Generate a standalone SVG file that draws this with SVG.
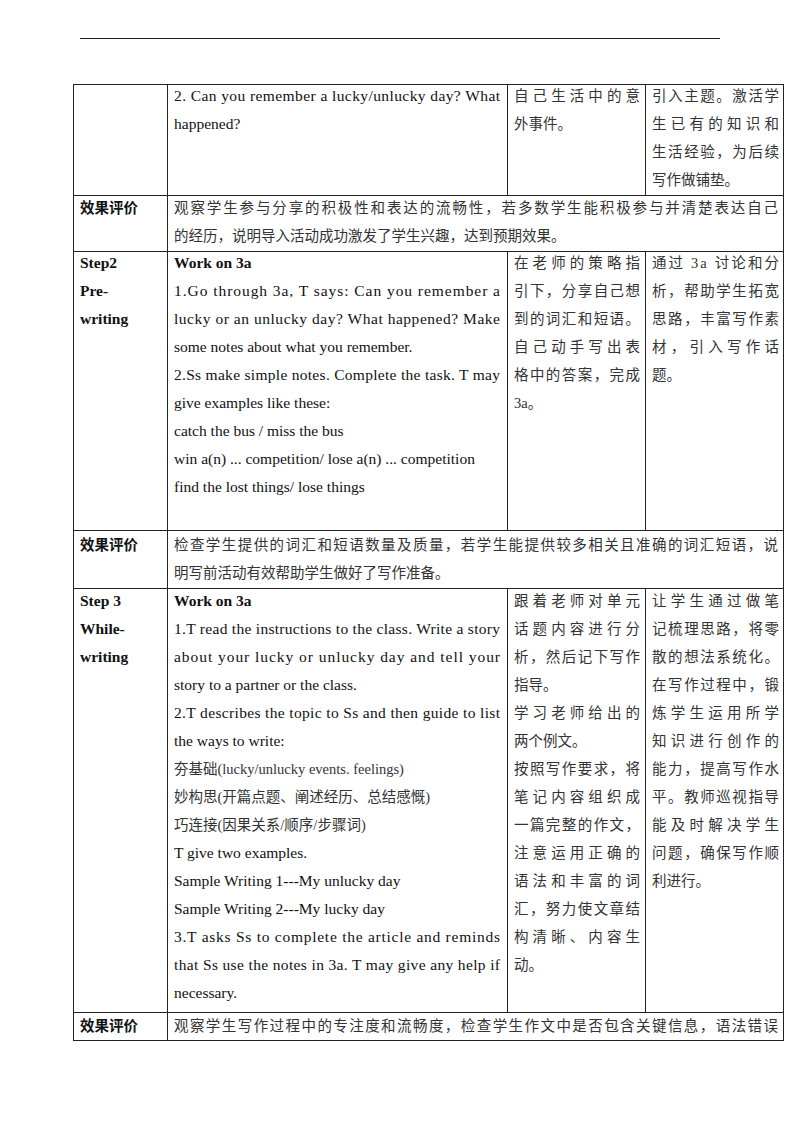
<svg xmlns="http://www.w3.org/2000/svg" width="800" height="1132" viewBox="0 0 800 1132">
<style>
.l{stroke:#222;stroke-width:1;fill:none}
.e{font-family:"Liberation Serif",serif;font-size:15.5px;fill:#111}
.b{font-family:"Liberation Serif",serif;font-size:15.5px;font-weight:bold;fill:#111}
.c{font-family:"Liberation Serif","Noto Sans CJK SC",serif;font-size:14.5px;fill:#333}
.h{font-family:"Noto Sans CJK SC",sans-serif;font-size:14.5px;font-weight:bold;fill:#111}
</style>
<rect width="800" height="1132" fill="#fff"/>
<line class="l" x1="80" y1="38.5" x2="720" y2="38.5"/>
<g id="grid">
<rect class="l" x="73.5" y="84.5" width="710" height="956"/>
<line class="l" x1="167.5" y1="84" x2="167.5" y2="1040"/>
<line class="l" x1="507.5" y1="84" x2="507.5" y2="195"/>
<line class="l" x1="645.5" y1="84" x2="645.5" y2="195"/>
<line class="l" x1="507.5" y1="251" x2="507.5" y2="530"/>
<line class="l" x1="645.5" y1="251" x2="645.5" y2="530"/>
<line class="l" x1="507.5" y1="588" x2="507.5" y2="1012"/>
<line class="l" x1="645.5" y1="588" x2="645.5" y2="1012"/>
<line class="l" x1="73" y1="195.5" x2="784" y2="195.5"/>
<line class="l" x1="73" y1="251.5" x2="784" y2="251.5"/>
<line class="l" x1="73" y1="530.5" x2="784" y2="530.5"/>
<line class="l" x1="73" y1="588.5" x2="784" y2="588.5"/>
<line class="l" x1="73" y1="1012.5" x2="784" y2="1012.5"/>
</g>
<g id="row1">
<text class="e" x="174" y="101" textLength="326">2. Can you remember a lucky/unlucky day? What</text>
<text class="e" x="174" y="129">happened?</text>
<text class="c" x="514" y="101" textLength="126">自己生活中的意</text>
<text class="c" x="514" y="129">外事件。</text>
<text class="c" x="652" y="101" textLength="127">引入主题。激活学</text>
<text class="c" x="652" y="129" textLength="127">生已有的知识和</text>
<text class="c" x="652" y="157" textLength="127">生活经验，为后续</text>
<text class="c" x="652" y="185">写作做铺垫。</text>
</g>
<g id="eval1">
<text class="h" x="80" y="213">效果评价</text>
<text class="c" x="174" y="213" textLength="604">观察学生参与分享的积极性和表达的流畅性，若多数学生能积极参与并清楚表达自己</text>
<text class="c" x="174" y="241">的经历，说明导入活动成功激发了学生兴趣，达到预期效果。</text>
</g>
<g id="step2">
<text class="b" x="80" y="268">Step2</text>
<text class="b" x="80" y="296">Pre-</text>
<text class="b" x="80" y="324">writing</text>
<text class="b" x="174" y="268">Work on 3a</text>
<text class="e" x="174" y="296" textLength="326">1.Go through 3a, T says: Can you remember a</text>
<text class="e" x="174" y="324" textLength="326">lucky or an unlucky day? What happened? Make</text>
<text class="e" x="174" y="352">some notes about what you remember.</text>
<text class="e" x="174" y="380" textLength="326">2.Ss make simple notes. Complete the task. T may</text>
<text class="e" x="174" y="408">give examples like these:</text>
<text class="e" x="174" y="436">catch the bus / miss the bus</text>
<text class="e" x="174" y="464">win a(n) ... competition/ lose a(n) ...  competition</text>
<text class="e" x="174" y="492">find the lost things/ lose things</text>
<text class="c" x="514" y="268" textLength="126">在老师的策略指</text>
<text class="c" x="514" y="296" textLength="126">引下，分享自己想</text>
<text class="c" x="514" y="324" textLength="126">到的词汇和短语。</text>
<text class="c" x="514" y="352" textLength="126">自己动手写出表</text>
<text class="c" x="514" y="380" textLength="126">格中的答案，完成</text>
<text class="c" x="514" y="408">3a。</text>
<text class="c" x="652" y="268" textLength="127">通过 3a 讨论和分</text>
<text class="c" x="652" y="296" textLength="127">析，帮助学生拓宽</text>
<text class="c" x="652" y="324" textLength="127">思路，丰富写作素</text>
<text class="c" x="652" y="352" textLength="127">材，引入写作话</text>
<text class="c" x="652" y="380">题。</text>
</g>
<g id="eval2">
<text class="h" x="80" y="550">效果评价</text>
<text class="c" x="174" y="550" textLength="604">检查学生提供的词汇和短语数量及质量，若学生能提供较多相关且准确的词汇短语，说</text>
<text class="c" x="174" y="578">明写前活动有效帮助学生做好了写作准备。</text>
</g>
<g id="step3">
<text class="b" x="80" y="606">Step 3</text>
<text class="b" x="80" y="634">While-</text>
<text class="b" x="80" y="662">writing</text>
<text class="b" x="174" y="606">Work on 3a</text>
<text class="e" x="174" y="634" textLength="326">1.T read the instructions to the class. Write a story</text>
<text class="e" x="174" y="662" textLength="326">about your lucky or unlucky day and tell your</text>
<text class="e" x="174" y="690">story to a partner or the class.</text>
<text class="e" x="174" y="718" textLength="326">2.T describes the topic to Ss and then guide to list</text>
<text class="e" x="174" y="746">the ways to write:</text>
<text class="c" x="174" y="774">夯基础(lucky/unlucky  events. feelings)</text>
<text class="c" x="174" y="802">妙构思(开篇点题、阐述经历、总结感慨)</text>
<text class="c" x="174" y="830">巧连接(因果关系/顺序/步骤词)</text>
<text class="e" x="174" y="858">T give two examples.</text>
<text class="e" x="174" y="886">Sample Writing 1---My unlucky day</text>
<text class="e" x="174" y="914">Sample Writing 2---My lucky day</text>
<text class="e" x="174" y="942" textLength="326">3.T asks Ss to complete the article and reminds</text>
<text class="e" x="174" y="970" textLength="326">that Ss use the notes in 3a. T may give any help if</text>
<text class="e" x="174" y="998">necessary.</text>
<text class="c" x="514" y="606" textLength="126">跟着老师对单元</text>
<text class="c" x="514" y="634" textLength="126">话题内容进行分</text>
<text class="c" x="514" y="662" textLength="126">析，然后记下写作</text>
<text class="c" x="514" y="690">指导。</text>
<text class="c" x="514" y="718" textLength="126">学习老师给出的</text>
<text class="c" x="514" y="746">两个例文。</text>
<text class="c" x="514" y="774" textLength="126">按照写作要求，将</text>
<text class="c" x="514" y="802" textLength="126">笔记内容组织成</text>
<text class="c" x="514" y="830" textLength="126">一篇完整的作文，</text>
<text class="c" x="514" y="858" textLength="126">注意运用正确的</text>
<text class="c" x="514" y="886" textLength="126">语法和丰富的词</text>
<text class="c" x="514" y="914" textLength="126">汇，努力使文章结</text>
<text class="c" x="514" y="942" textLength="126">构清晰、内容生</text>
<text class="c" x="514" y="970">动。</text>
<text class="c" x="652" y="606" textLength="127">让学生通过做笔</text>
<text class="c" x="652" y="634" textLength="127">记梳理思路，将零</text>
<text class="c" x="652" y="662" textLength="127">散的想法系统化。</text>
<text class="c" x="652" y="690" textLength="127">在写作过程中，锻</text>
<text class="c" x="652" y="718" textLength="127">炼学生运用所学</text>
<text class="c" x="652" y="746" textLength="127">知识进行创作的</text>
<text class="c" x="652" y="774" textLength="127">能力，提高写作水</text>
<text class="c" x="652" y="802" textLength="127">平。教师巡视指导</text>
<text class="c" x="652" y="830" textLength="127">能及时解决学生</text>
<text class="c" x="652" y="858" textLength="127">问题，确保写作顺</text>
<text class="c" x="652" y="886">利进行。</text>
</g>
<g id="eval3">
<text class="h" x="80" y="1031">效果评价</text>
<text class="c" x="174" y="1031" textLength="604">观察学生写作过程中的专注度和流畅度，检查学生作文中是否包含关键信息，语法错误</text>
</g>
</svg>
